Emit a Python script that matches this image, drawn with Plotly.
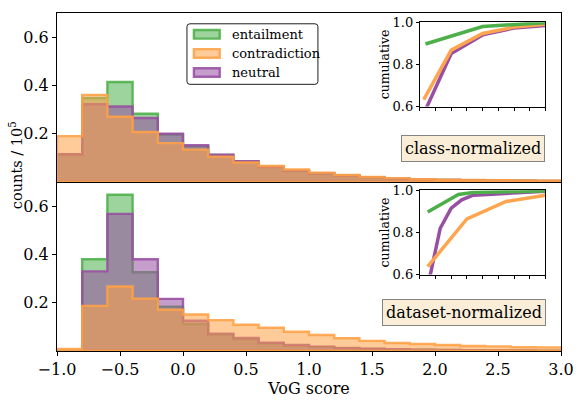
import plotly.graph_objects as go

# ---------------- data ----------------
bin_edges = [-1.0, -0.8, -0.6, -0.4, -0.2, 0.0, 0.2, 0.4, 0.6, 0.8, 1.0,
             1.2, 1.4, 1.6, 1.8, 2.0, 2.2, 2.4, 2.6, 2.8, 3.0]

# class-normalized (top panel), counts / 1e5 per bin
cls_entailment = [0.115, 0.348, 0.414, 0.283, 0.197, 0.148, 0.112, 0.085, 0.062, 0.046,
                  0.036, 0.026, 0.019, 0.014, 0.011, 0.009, 0.007, 0.006, 0.005, 0.004]
cls_contradiction = [0.19, 0.361, 0.27, 0.207, 0.161, 0.134, 0.105, 0.081, 0.066, 0.052,
                     0.039, 0.029, 0.021, 0.016, 0.012, 0.010, 0.008, 0.007, 0.006, 0.005]
cls_neutral = [0.115, 0.322, 0.313, 0.265, 0.2, 0.152, 0.113, 0.086, 0.063, 0.047,
               0.036, 0.026, 0.019, 0.014, 0.011, 0.009, 0.007, 0.006, 0.005, 0.004]

# dataset-normalized (bottom panel)
ds_entailment = [0.0, 0.38, 0.647, 0.326, 0.184, 0.112, 0.068, 0.05, 0.032, 0.023,
                 0.017, 0.012, 0.009, 0.006, 0.005, 0.004, 0.003, 0.002, 0.002, 0.001]
ds_contradiction = [0.009, 0.187, 0.267, 0.217, 0.171, 0.151, 0.128, 0.109, 0.096, 0.08,
                    0.066, 0.053, 0.042, 0.033, 0.029, 0.025, 0.021, 0.019, 0.016, 0.015]
ds_neutral = [0.0, 0.33, 0.568, 0.38, 0.216, 0.125, 0.072, 0.054, 0.034, 0.025,
              0.018, 0.013, 0.010, 0.007, 0.005, 0.004, 0.003, 0.002, 0.002, 0.001]

# cumulative insets (x in inset tick units 0..8)
inset_ticks = [0, 1, 2, 3, 4, 5, 6, 7, 8]
top_cum_entailment_x = [0.36, 4.0, 8.0]
top_cum_entailment_y = [0.897, 0.98, 0.998]
top_cum_contradiction_x = [0.25, 2.0, 4.0, 6.0, 8.0]
top_cum_contradiction_y = [0.633, 0.868, 0.947, 0.977, 0.991]
top_cum_neutral_x = [0.25, 2.0, 4.0, 6.0, 8.0]
top_cum_neutral_y = [0.566, 0.852, 0.94, 0.973, 0.985]

bot_cum_entailment_x = [0.5, 2.46, 3.4, 8.0]
bot_cum_entailment_y = [0.897, 0.98, 0.99, 0.997]
bot_cum_contradiction_x = [0.5, 3.0, 5.5, 8.0]
bot_cum_contradiction_y = [0.638, 0.864, 0.947, 0.977]
bot_cum_neutral_x = [0.5, 1.3, 2.0, 2.67, 3.4, 8.0]
bot_cum_neutral_y = [0.541, 0.82, 0.915, 0.955, 0.977, 0.995]

labels = ["entailment", "contradiction", "neutral"]

# ---------------- style ----------------
GREEN = (77, 175, 74)
ORANGE = (255, 160, 70)
PURPLE = (152, 78, 163)
FONT = "DejaVu Serif"
W, H = 580, 400
ML, MR, MT, MB = 57, 15, 6, 40
PW, PH = W - ML - MR, H - MT - MB


def rgba(c, a):
    return "rgba(%d,%d,%d,%.2f)" % (c[0], c[1], c[2], a)


def px_x(px):
    return (px - ML) / PW


def px_y(py):
    return (H - MB - py) / PH


def step_trace(edges, counts, color, xa, ya):
    xs = [edges[0]] + list(edges[:-1]) + [edges[-1], edges[-1], edges[0]]
    ys = [0] + list(counts) + [counts[-1], 0, 0]
    return go.Scatter(x=xs, y=ys, mode="lines", line=dict(shape="hv", color=rgba(color, 0.88), width=2.4),
                      fill="toself", fillcolor=rgba(color, 0.55), xaxis=xa, yaxis=ya,
                      showlegend=False, hoverinfo="skip")


fig = go.Figure()
# top panel (x2, y2)
fig.add_trace(step_trace(bin_edges, cls_entailment, GREEN, "x2", "y2"))
fig.add_trace(step_trace(bin_edges, cls_neutral, PURPLE, "x2", "y2"))
fig.add_trace(step_trace(bin_edges, cls_contradiction, ORANGE, "x2", "y2"))
# bottom panel (x, y)
fig.add_trace(step_trace(bin_edges, ds_entailment, GREEN, "x", "y"))
fig.add_trace(step_trace(bin_edges, ds_neutral, PURPLE, "x", "y"))
fig.add_trace(step_trace(bin_edges, ds_contradiction, ORANGE, "x", "y"))


def cum_line(xv, yv, color, xa, ya):
    return go.Scatter(x=xv, y=yv, mode="lines", line=dict(color=rgba(color, 1), width=3.5),
                      xaxis=xa, yaxis=ya, showlegend=False, hoverinfo="skip")


fig.add_trace(cum_line(top_cum_neutral_x, top_cum_neutral_y, PURPLE, "x3", "y3"))
fig.add_trace(cum_line(top_cum_contradiction_x, top_cum_contradiction_y, (255, 165, 80), "x3", "y3"))
fig.add_trace(cum_line(top_cum_entailment_x, top_cum_entailment_y, GREEN, "x3", "y3"))
fig.add_trace(cum_line(bot_cum_neutral_x, bot_cum_neutral_y, PURPLE, "x4", "y4"))
fig.add_trace(cum_line(bot_cum_contradiction_x, bot_cum_contradiction_y, (255, 165, 80), "x4", "y4"))
fig.add_trace(cum_line(bot_cum_entailment_x, bot_cum_entailment_y, GREEN, "x4", "y4"))

axis_common = dict(showline=True, linecolor="black", linewidth=1, mirror=True, showgrid=False,
                   zeroline=False, ticks="outside", tickcolor="black", ticklen=4,
                   tickfont=dict(family=FONT, size=16, color="black"))

main_xticks = [-1.0, -0.5, 0.0, 0.5, 1.0, 1.5, 2.0, 2.5, 3.0]
main_yticks = [0.2, 0.4, 0.6]

inset_common = dict(showline=True, linecolor="black", linewidth=1, mirror=True, showgrid=False,
                    zeroline=False, ticks="outside", tickcolor="black", ticklen=3,
                    tickfont=dict(family=FONT, size=13, color="black"))

ix0, ix1 = px_x(422.7), px_x(549.3)

fig.update_layout(
    width=W, height=H, autosize=False,
    margin=dict(l=ML, r=MR, t=MT, b=MB),
    paper_bgcolor="white", plot_bgcolor="white",
    font=dict(family=FONT, color="black"),
    showlegend=False,
    xaxis=dict(axis_common, domain=[0, 1], range=[-1, 3], anchor="y", tickvals=main_xticks,
               tickformat=".1f",
               title=dict(text="VoG score", font=dict(family=FONT, size=16, color="black"), standoff=4)),
    yaxis=dict(axis_common, domain=[0, 0.5], range=[0, 0.7], anchor="x", tickvals=main_yticks,
               tickformat=".1f"),
    xaxis2=dict(axis_common, domain=[0, 1], range=[-1, 3], anchor="y2", matches="x",
                showticklabels=False, ticks=""),
    yaxis2=dict(axis_common, domain=[0.5, 1], range=[0, 0.7], anchor="x2", tickvals=main_yticks,
                tickformat=".1f"),
    xaxis3=dict(inset_common, domain=[ix0, ix1], range=[0, 8], anchor="y3", tickvals=inset_ticks,
                showticklabels=False),
    yaxis3=dict(inset_common, domain=[px_y(104), px_y(15.7)], range=[0.6, 1.0], anchor="x3",
                tickvals=[0.6, 0.8, 1.0], tickformat=".1f",
                title=dict(text="cumulative", font=dict(family=FONT, size=12.5, color="black"), standoff=0)),
    xaxis4=dict(inset_common, domain=[ix0, ix1], range=[0, 8], anchor="y4", tickvals=inset_ticks,
                showticklabels=False),
    yaxis4=dict(inset_common, domain=[px_y(280), px_y(191.7)], range=[0.6, 1.0], anchor="x4",
                tickvals=[0.6, 0.8, 1.0], tickformat=".1f",
                title=dict(text="cumulative", font=dict(family=FONT, size=12.5, color="black"), standoff=0)),
)

# y label
fig.add_annotation(x=px_x(15), y=px_y(165), xref="paper", yref="paper", text="counts / 10<sup>5</sup>",
                   textangle=-90, showarrow=False, font=dict(family=FONT, size=14.5, color="black"),
                   xanchor="center", yanchor="middle")

# text boxes
box_style = dict(xref="paper", yref="paper", showarrow=False, font=dict(family=FONT, size=16, color="black"),
                 bgcolor="rgba(245,222,179,0.5)", bordercolor="rgba(120,120,120,0.9)", borderwidth=1,
                 borderpad=3, xanchor="center", yanchor="middle")
fig.add_annotation(x=px_x(476), y=px_y(148), text="class-normalized", **box_style)
fig.add_annotation(x=px_x(467), y=px_y(319.5), text="dataset-normalized", **box_style)

# legend (manual, in the top panel)
lx0, lx1, ly0, ly1 = 188, 320, 17.3, 80.7
r = 3
path = ("M {a},{b} L {c},{b} Q {d},{b} {d},{e} L {d},{f} Q {d},{g} {c},{g} L {a},{g} "
        "Q {h},{g} {h},{f} L {h},{e} Q {h},{b} {a},{b} Z").format(
    a=px_x(lx0 + r), b=px_y(ly0), c=px_x(lx1 - r), d=px_x(lx1), e=px_y(ly0 + r),
    f=px_y(ly1 - r), g=px_y(ly1), h=px_x(lx0))
fig.add_shape(type="path", path=path, xref="paper", yref="paper",
              line=dict(color="rgba(30,30,30,1)", width=1), fillcolor="white", layer="above")
legend_colors = [GREEN, ORANGE, PURPLE]
row_centers = [28.3, 48.3, 68.3]
for lab, col, yc in zip(labels, legend_colors, row_centers):
    fig.add_shape(type="rect", xref="paper", yref="paper",
                  x0=px_x(195), x1=px_x(221), y0=px_y(yc - 4.5), y1=px_y(yc + 4.5),
                  line=dict(color=rgba(col, 0.88), width=2.4), fillcolor=rgba(col, 0.55), layer="above")
    fig.add_annotation(x=px_x(231), y=px_y(yc), xref="paper", yref="paper", text=lab, showarrow=False,
                       xanchor="left", yanchor="middle", font=dict(family=FONT, size=13, color="black"))

fig.write_html("out.html")
